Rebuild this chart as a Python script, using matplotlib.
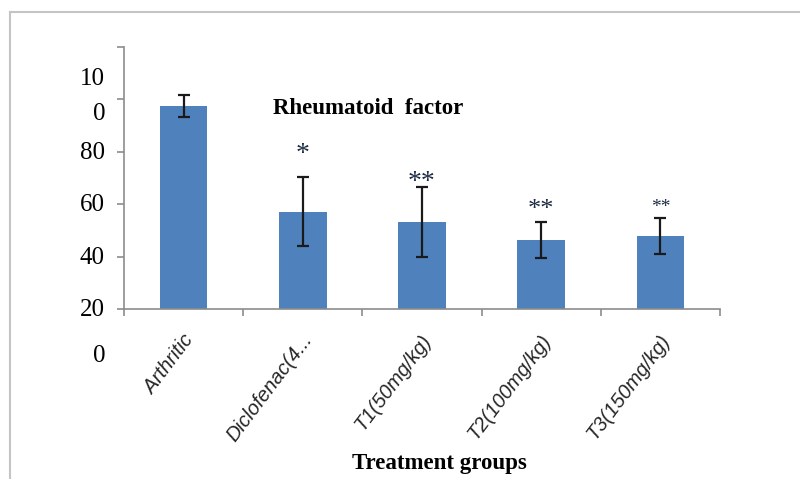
import numpy as np
import matplotlib
matplotlib.use('Agg')
import matplotlib.pyplot as plt
from matplotlib.lines import Line2D

# data
groups = ['Arthritic', 'Diclofenac(4...', 'T1(50mg/kg)', 'T2(100mg/kg)', 'T3(150mg/kg)']
means = [97.5, 57.1, 53.3, 46.3, 47.9]
errs = [4.2, 13.2, 13.3, 7.0, 6.8]
stars = ['*', '**', '**', '**']
star_y = [78.8, 68.4, 57.8, 58.9]
star_size = [20, 20, 19, 14]
ytick_vals = [20, 40, 60, 80, 100, 120]

bar_color = '#4F81BD'
axis_color = '#8c8c8c'

fig = plt.figure(figsize=(8, 4.79), dpi=100)
ax = fig.add_axes([0.155, 0.3549, 0.745, 0.5470])

x = np.arange(len(groups)) + 0.5
ax.bar(x, means, width=0.4, color=bar_color, zorder=2)
ax.errorbar(x, means, yerr=errs, fmt='none', ecolor='#1a1a1a',
            elinewidth=1.6, capsize=4, capthick=1.6, zorder=3)

ax.set_xlim(0, len(groups))
ax.set_ylim(20, 120)
ax.set_yticks(ytick_vals)
ax.set_yticklabels([])
ax.set_xticks(np.arange(len(groups) + 1))
ax.set_xticklabels([])
ax.tick_params(axis='both', direction='out', length=5, width=1.2, color=axis_color)
for s in ['top', 'right']:
    ax.spines[s].set_visible(False)
for s in ['left', 'bottom']:
    ax.spines[s].set_color(axis_color)
    ax.spines[s].set_linewidth(1.2)

# y labels, as they sit in the original (shifted, "100" wrapped)
serif = 'Liberation Serif'
ylab = [('10', 79), ('0', 114), ('80', 153), ('60', 205), ('40', 258), ('20', 310), ('0', 356)]
for txt, py in ylab:
    fig.text(105 / 800, 1 - py / 479, txt, ha='right', va='center',
             fontsize=18, family=serif, color='black')

# category labels
for xi, g in zip(x, groups):
    ax.text(xi + 0.05, -0.105, g, transform=ax.get_xaxis_transform(),
            rotation=53, rotation_mode='anchor', ha='right', va='center',
            fontsize=14.5, style='italic', family='Liberation Sans', color='#262626')

# significance marks
for xi, s, sy, fs in zip(x[1:], stars, star_y, star_size):
    ax.text(xi, sy, s, ha='center', va='center', fontsize=fs, family=serif,
            color='#1c2c44', zorder=4)

fig.text(368 / 800, 1 - 109 / 479, 'Rheumatoid  factor', ha='center', va='center',
         fontsize=16.5, fontweight='bold', family=serif)
fig.text(439 / 800, 1 - 464 / 479, 'Treatment groups', ha='center', va='center',
         fontsize=16.5, fontweight='bold', family=serif)

# outer frame
fig.add_artist(Line2D([10 / 800, 1], [1 - 12 / 479] * 2, color='#c4c4c4', lw=1.5))
fig.add_artist(Line2D([10 / 800] * 2, [0, 1 - 12 / 479], color='#c4c4c4', lw=1.5))

fig.savefig('out.png', dpi=100)
